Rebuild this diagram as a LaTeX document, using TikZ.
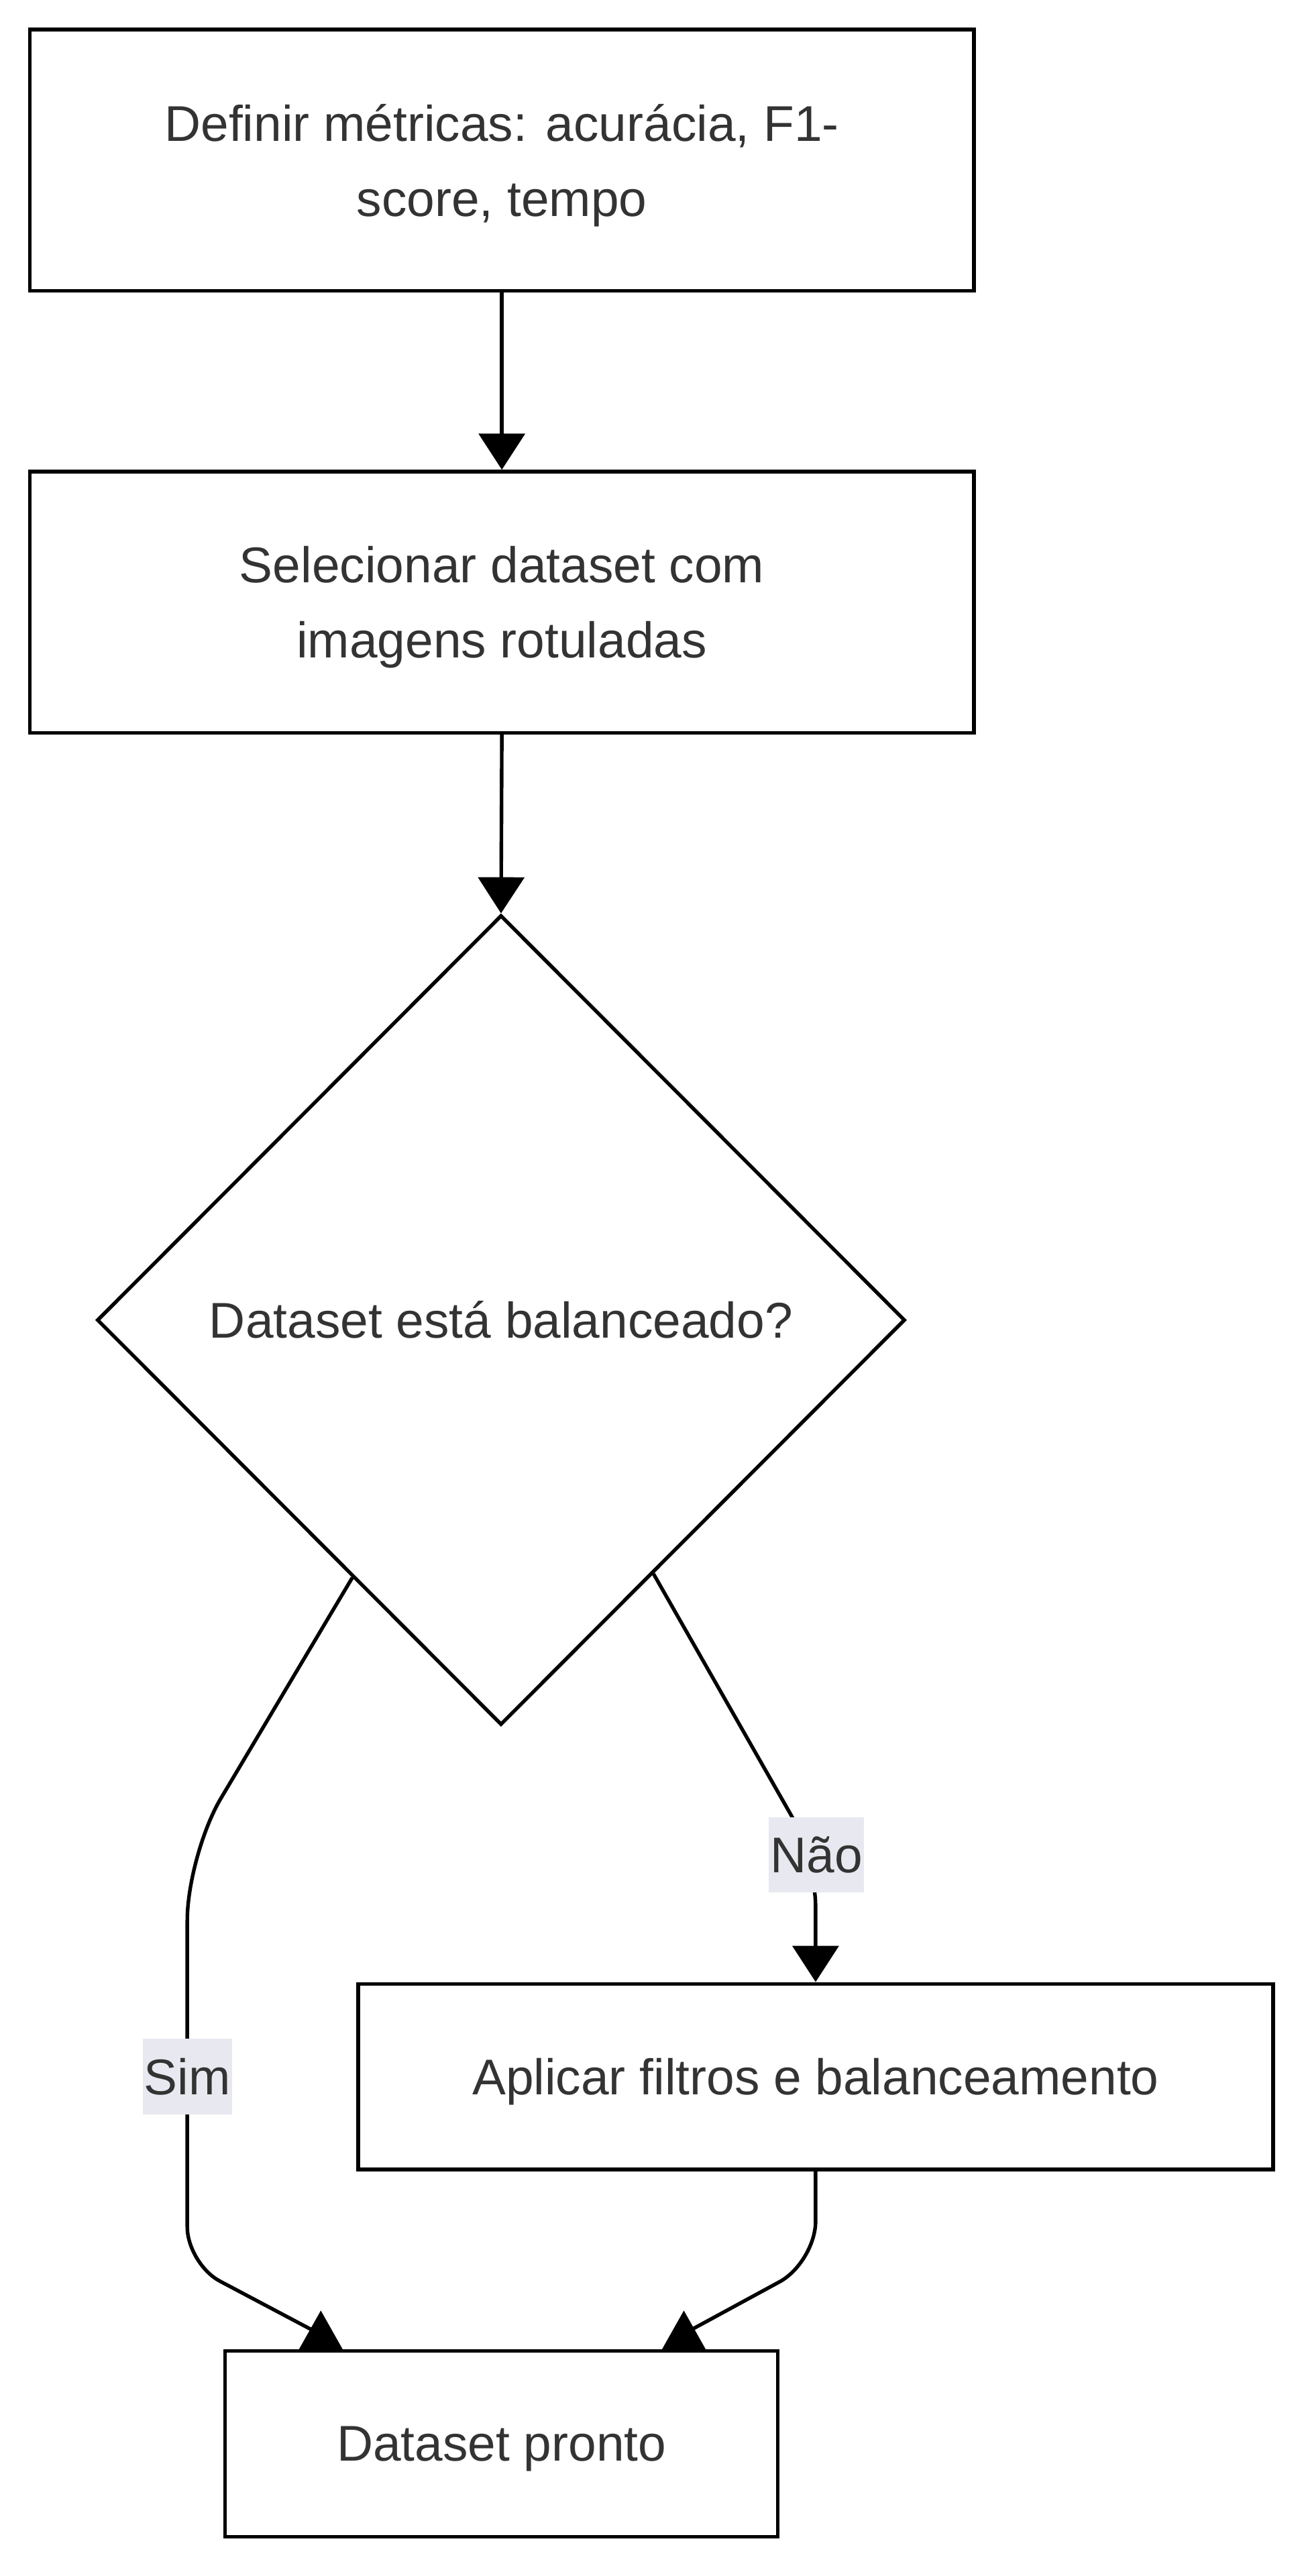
\documentclass[tikz,border=0pt]{standalone}
\usepackage{fontspec}
\setmainfont{Liberation Sans}
\usepackage{xcolor}
\usepackage{tikz}
\usetikzlibrary{calc,shapes.geometric,arrows.meta}
\definecolor{textgray}{HTML}{333333}
\definecolor{labelbg}{HTML}{E8E8F0}
\tikzset{
    etapa/.style={draw, line width=1.25pt, minimum width=11.5cm, minimum height=3.18cm, text depth=0pt,
        align=center, text=textgray, font=\fontsize{17.4}{26}\selectfont},
    decisao/.style={draw, diamond, line width=1.25pt, minimum width=9.84cm, minimum height=9.86cm,
        inner sep=0pt, text=textgray, font=\fontsize{17.4}{26}\selectfont},
    rotulo/.style={fill=labelbg, inner xsep=0.5pt, inner ysep=0pt, minimum height=0.92cm,
        text=textgray, font=\fontsize{17.4}{26}\selectfont},
    linha/.style={line width=1.25pt},
    seta/.style={line width=1.25pt, -{Triangle[width=0.56cm,length=0.44cm]}}
}

\begin{document}
\begin{tikzpicture}[x=0.02cm, y=-0.02cm]
            \useasboundingbox (0,0) rectangle (796,1568);
            \node[etapa] (metricas) at (305.5, 97.5) {Definir métricas: acurácia, F1-\\score, tempo};
            \node[etapa] (dataset) at (305.5, 366.5) {Selecionar dataset com\\imagens rotuladas};
            \node[decisao] (balanc) at (305, 803.5) {Dataset está balanceado?};
            \node[etapa, minimum width=11.14cm, minimum height=2.26cm] (aplicar) at (496.5, 1264) {Aplicar filtros e balanceamento};
            \node[etapa, minimum width=6.73cm, minimum height=2.26cm] (pronto) at (305.3, 1487.5) {Dataset pronto};
            \draw [seta] (metricas.south) -- (dataset.north);
            \draw [seta] (dataset.south) -- (balanc.north);
            % ramo Sim
            \coordinate (simFim) at ($(pronto.north)+(-114,-11)$);
            \draw [linha, rounded corners=0.8cm] (balanc.240) -- (114, 1129) [rounded corners=0.45cm] -- (114, 1378) -- (simFim);
            \fill ($(pronto.north)+(-110,-23.5)$) -- ++(13.25,23.5) -- ++(-26.5,0) -- cycle;
            \node[rotulo] (sim) at (114, 1264) {Sim};
            % ramo Não
            \draw [seta, rounded corners=0.6cm] (balanc.301) -- (496.5, 1131) -- (aplicar.north);
            \node[rotulo] (nao) at (497, 1129) {Não};
            \coordinate (naoFim) at ($(pronto.north)+(114,-11)$);
            \draw [linha, rounded corners=0.5cm] (aplicar.south) -- (496.5, 1377) -- (naoFim);
            \fill ($(pronto.north)+(111,-23.5)$) -- ++(13.25,23.5) -- ++(-26.5,0) -- cycle;
        \end{tikzpicture}
\end{document}
